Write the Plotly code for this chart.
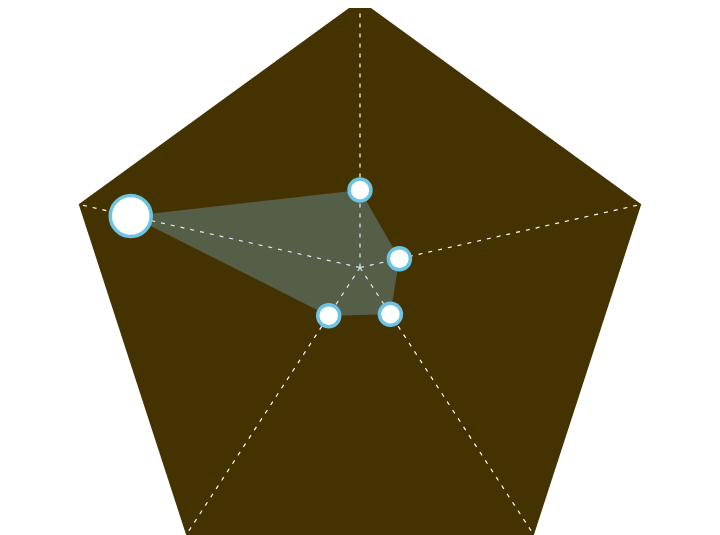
import numpy as np
import plotly.graph_objects as go

# radar data, listed clockwise starting from the top spoke
categories = ["A", "B", "C", "D", "E"]
values = [29, 14, 17.5, 18, 81.5]
marker_sizes = [22, 22, 22, 22, 41]
value_max = 100

W, H = 720, 535
PAGE_MARGIN = 8  # default <body> margin of the written html page

# pentagon is fitted to the full height, the spokes meet at the centre of the plot
n = len(categories)
R = H / (1 + np.cos(np.pi / n))
pent_cy = H / 2 - R
ang = np.pi / 2 - 2 * np.pi * np.arange(n) / n
vx = R * np.cos(ang)
vy = pent_cy + R * np.sin(ang)

t = np.array(values) / value_max
px = t * vx
py = t * vy

fig = go.Figure()

# background pentagon
fig.add_trace(go.Scatter(
    x=list(vx) + [vx[0]], y=list(vy) + [vy[0]],
    mode="lines", fill="toself", fillcolor="#443300",
    line=dict(width=0), hoverinfo="skip",
))

# spokes from the hub to every corner
sx, sy = [], []
for i in range(n):
    sx += [0, vx[i], None]
    sy += [0, vy[i], None]
fig.add_trace(go.Scatter(
    x=sx, y=sy, mode="lines",
    line=dict(color="white", width=1.2, dash="4px,6px"),
    hoverinfo="skip",
))

# the series
fig.add_trace(go.Scatter(
    x=list(px) + [px[0]], y=list(py) + [py[0]],
    mode="lines", fill="toself", fillcolor="rgba(125,194,233,0.3)",
    line=dict(width=0), hoverinfo="skip",
))
fig.add_trace(go.Scatter(
    x=px, y=py, mode="markers", text=categories,
    marker=dict(size=marker_sizes, color="white", opacity=1,
                line=dict(color="#6cc3e3", width=3.5)),
    cliponaxis=False,
))

fig.update_layout(
    width=W, height=H,
    margin=dict(l=0, r=0, t=0, b=0),
    showlegend=False,
    paper_bgcolor="white",
    plot_bgcolor="white",
    xaxis=dict(visible=False, range=[-(W / 2 - PAGE_MARGIN), W / 2 + PAGE_MARGIN]),
    yaxis=dict(visible=False, range=[-(H / 2 + PAGE_MARGIN), H / 2 - PAGE_MARGIN]),
)

fig.write_html("out.html")
